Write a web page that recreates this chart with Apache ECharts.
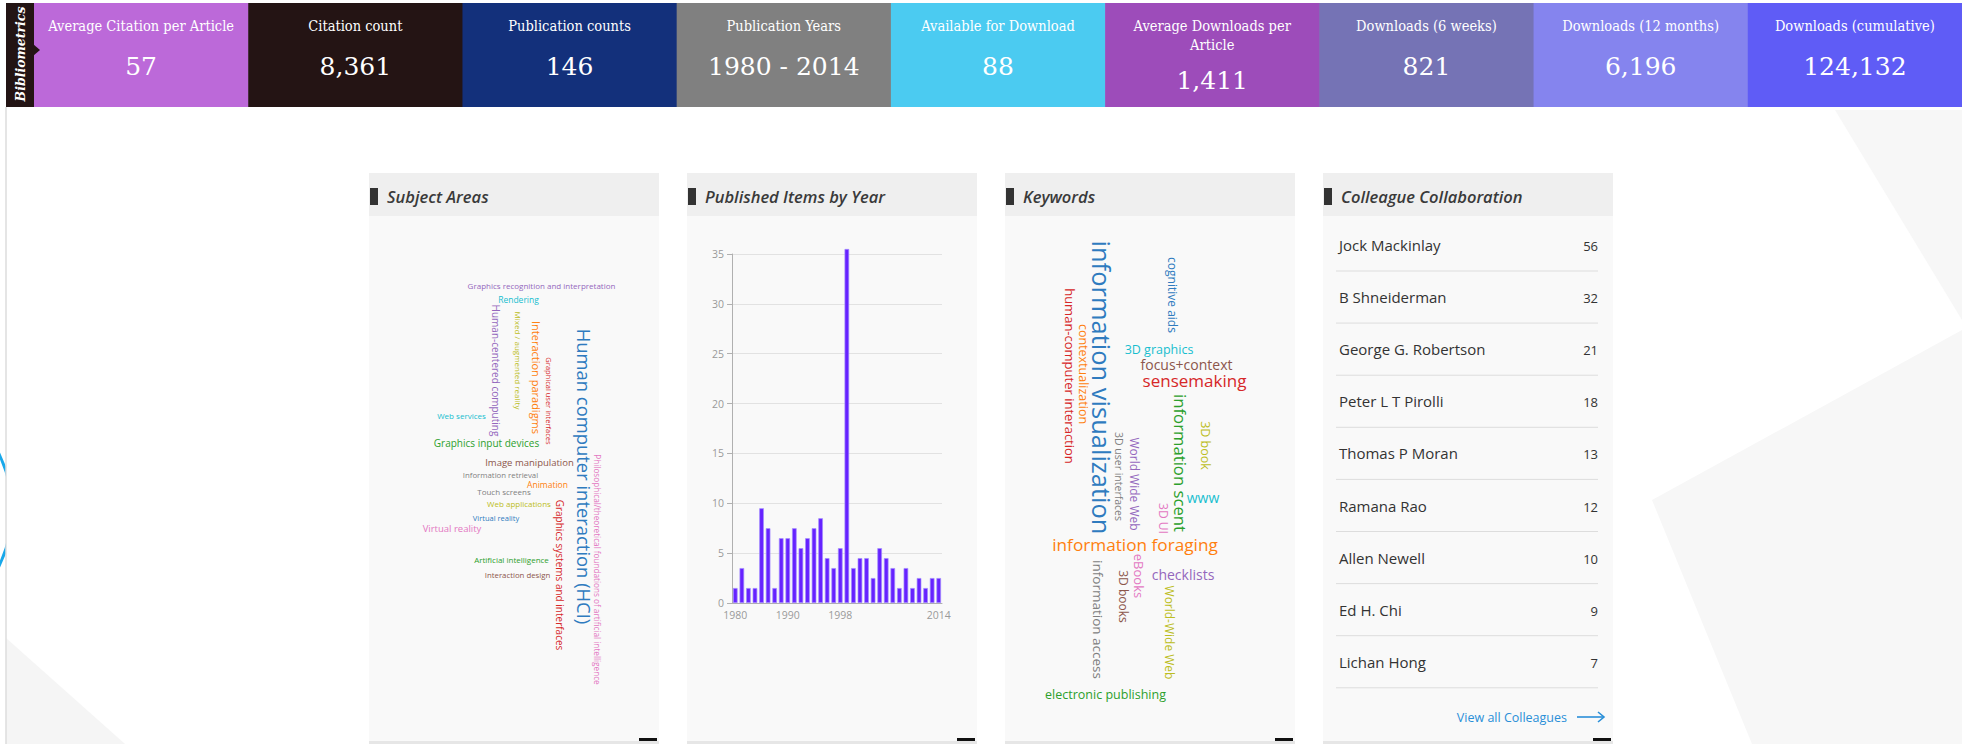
<!DOCTYPE html>
<html><head><meta charset="utf-8">
<script src="https://cdn.jsdelivr.net/npm/echarts@6/dist/echarts.min.js"></script>
<style>html,body{margin:0;padding:0;background:#fff;overflow:hidden}#c{width:1962px;height:744px}</style>
</head><body><div id="c"></div><script>
// ---------------- DATA ----------------
const metricLabels = ['Average Citation per Article','Citation count','Publication counts','Publication Years','Available for Download','Average Downloads per\nArticle','Downloads (6 weeks)','Downloads (12 months)','Downloads (cumulative)'];
const metricValues = ['57','8,361','146','1980 - 2014','88','1,411','821','6,196','124,132'];
const panelTitles = ['Subject Areas','Published Items by Year','Keywords','Colleague Collaboration'];

const years = ['1980','1981','1982','1983','1985','1986','1987','1989','1990','1991','1992','1993','1994','1995','1996','1997','1998','1999','2000','2001','2002','2003','2004','2005','2006','2007','2008','2010','2011','2012','2013','2014'];
const itemsPerYear = [1.5,3.5,1.5,1.5,9.5,7.5,1.5,6.5,6.5,7.5,5.5,6.5,7.5,8.5,4.5,3.5,5.5,35.5,3.5,4.5,4.5,2.5,5.5,4.5,3.5,1.5,3.5,1.5,2.5,1.5,2.5,2.5];
const xTickLabels = ['1980','1990','1998','2014'];

const subjectWords = ['Graphics recognition and interpretation','Rendering','Human-centered computing','Mixed / augmented reality','Interaction paradigms','Graphical user interfaces','Human computer interaction (HCI)','Web services','Graphics input devices','Philosophical/theoretical foundations of artificial intelligence','Image manipulation','Information retrieval','Animation','Touch screens','Web applications','Virtual reality','Virtual reality','Graphics systems and interfaces','Artificial intelligence','Interaction design'];
const subjectWeights = [8,8.5,10,8,11,7.5,18.4,8,10,8.2,9.5,7.8,8.5,8,8,7.5,9.5,10,8,7.8];

const keywordWords = ['information visualization','cognitive aids','human-computer interaction','contextualization','3D graphics','focus+context','sensemaking','information scent','3D book','3D user interfaces','World Wide Web','www','3D UI','information foraging','eBooks','checklists','3D books','information access','World-Wide Web','electronic publishing'];
const keywordWeights = [25.5,12,13,12.5,12.5,14,17,16.7,12.5,10.5,12,14,12,17.2,13,14,12,13.5,12,12.5];

const colleagueNames = ['Jock Mackinlay','B Shneiderman','George G. Robertson','Peter L T Pirolli','Thomas P Moran','Ramana Rao','Allen Newell','Ed H. Chi','Lichan Hong'];
const colleagueCounts = [56,32,21,18,13,12,10,9,7];

// ---------------- LAYOUT / STYLE ----------------
const metricColors = ['#BC69D9','#241414','#13307B','#808080','#4BCBF1','#9D4CBA','#7573B5','#8584EE','#5F5CF6'];
const palette = {blue:'#2f7bbf',orange:'#ff7f0e',green:'#2ca02c',red:'#d62728',purple:'#9467bd',brown:'#8c564b',pink:'#e377c2',gray:'#7f7f7f',olive:'#bcbd22',cyan:'#17becf'};
// [cx, cy, vertical, colorKey]
const subjectLayout = [
 [541.5,285,0,'purple'],[518.5,299,0,'cyan'],[496,370.5,1,'purple'],[518,360.5,1,'olive'],[536,377.5,1,'orange'],
 [549,401,1,'red'],[584,476.5,1,'blue'],[461.5,415,0,'cyan'],[486.5,443,0,'green'],[597,569.5,1,'pink'],
 [529.5,462,0,'brown'],[500.5,475,0,'gray'],[547.5,484,0,'orange'],[504,491,0,'gray'],[519,503,0,'olive'],
 [496,518,0,'blue'],[452,528,0,'pink'],[560,575,1,'red'],[511.5,559,0,'green'],[517.5,575,0,'brown']];
const keywordLayout = [
 [1102,387.5,1,'blue'],[1172,295,1,'blue'],[1070,376,1,'red'],[1083,374,1,'orange'],[1159,349,0,'cyan'],
 [1186.5,364,0,'brown'],[1194.5,380,0,'red'],[1180,463,1,'green'],[1205,445.5,1,'olive'],[1119,476.5,1,'gray'],
 [1134,484,1,'purple'],[1203,497,0,'cyan'],[1163,518.5,1,'pink'],[1135,544,0,'orange'],[1139,576,1,'pink'],
 [1183,574,0,'purple'],[1123,596.5,1,'brown'],[1098,619.5,1,'gray'],[1169,632.5,1,'olive'],[1105.5,694,0,'green']];

const panelX = [369,687,1005,1323], panelW = 290, panelTop = 173, panelHead = 43;
const serif = "'DejaVu Serif Condensed','Liberation Serif',serif";
const sans = "'Open Sans','Noto Sans',sans-serif";

const els = [];
function rect(x,y,w,h,fill,z){els.push({type:'rect',silent:true,z:z||0,shape:{x,y,width:w,height:h},style:{fill}});}
function txt(x,y,t,o){els.push({type:'text',silent:true,z:o.z||10,x,y,rotation:o.rot||0,style:{text:t,align:o.align||'center',verticalAlign:'middle',fill:o.fill||'#333',fontSize:o.size||12,fontFamily:o.family||sans,fontWeight:o.weight||'normal',fontStyle:o.style||'normal',lineHeight:o.lh}});}

// background decorations
els.push({type:'circle',silent:true,z:-20,shape:{cx:-116,cy:510,r:128},style:{fill:'none',stroke:'#18a8ea',lineWidth:3}});
rect(6,107,1956,637,'#ffffff',-15);
els.push({type:'polygon',silent:true,z:-14,shape:{points:[[6,638],[125,744],[6,744]]},style:{fill:'#f5f5f5'}});
els.push({type:'polygon',silent:true,z:-14,shape:{points:[[1652,500],[1962,330],[1962,744],[1752,744]]},style:{fill:'#f7f7f7'}});
els.push({type:'polygon',silent:true,z:-14,shape:{points:[[1835,110],[1962,110],[1962,320]]},style:{fill:'#f7f7f7'}});
els.push({type:'line',silent:true,z:-13,shape:{x1:6,y1:107,x2:6,y2:744},style:{stroke:'#dcdcdc',lineWidth:1.5}});

// header
const hx0 = 34, hw = (1962-34)/9;
metricLabels.forEach((lab,i)=>{
  const x = hx0 + i*hw;
  rect(x,3,hw+0.6,104,metricColors[i],1);
  const two = lab.indexOf('\n')>=0;
  txt(x+hw/2, two?35.5:26, lab, {fill:'#fff',size:14.5,family:serif,lh:19});
  txt(x+hw/2, two?80:66, metricValues[i], {fill:'#fff',size:25,family:"'DejaVu Serif','Liberation Serif',serif"});
});
rect(6,3,28,104,'#231414',2);
els.push({type:'polygon',silent:true,z:3,shape:{points:[[33,44],[40,50],[33,56]]},style:{fill:'#231414'}});
txt(20,54,'Bibliometrics',{fill:'#fff',size:12.5,family:"'DejaVu Serif','Liberation Serif',serif",weight:'bold',style:'italic',rot:Math.PI/2});

// panels
panelX.forEach((px,i)=>{
  rect(px,panelTop,panelW,744-panelTop,'#f9f9f9',-5);
  rect(px,panelTop,panelW,panelHead,'#efefef',-4);
  rect(px+1,188,8,17,'#333',-3);
  txt(px+18,196,panelTitles[i],{align:'left',size:16.5,weight:'600',style:'italic',fill:'#3a3a3a'});
  rect(px,741,panelW,3,'#e6e6e6',-3);
  rect(px+270,738,18,3,'#111',-2);
});

// word clouds
function cloud(words,weights,layout){
  words.forEach((w,i)=>{
    const L = layout[i];
    txt(L[0],L[1],w,{size:weights[i],fill:palette[L[3]],rot:L[2]?-Math.PI/2:0});
  });
}
cloud(subjectWords,subjectWeights,subjectLayout);
cloud(keywordWords,keywordWeights,keywordLayout);

// colleagues
colleagueNames.forEach((n,i)=>{
  const y = 245 + 52.1*i;
  txt(1339,y,n,{align:'left',size:15,fill:'#333'});
  txt(1598,y+1,String(colleagueCounts[i]),{align:'right',size:13,fill:'#333'});
  els.push({type:'line',silent:true,z:1,shape:{x1:1336,y1:y+26,x2:1598,y2:y+26},style:{stroke:'#dddddd',lineWidth:1}});
});
txt(1567,717,'View all Colleagues',{align:'right',size:12.5,fill:'#2a8fd8'});
els.push({type:'line',silent:true,z:1,shape:{x1:1577,y1:717,x2:1604,y2:717},style:{stroke:'#2a8fd8',lineWidth:1.6}});
els.push({type:'polyline',silent:true,z:1,shape:{points:[[1598,712],[1604,717],[1598,722]]},style:{stroke:'#2a8fd8',lineWidth:1.6,fill:'none'}});

const chart = echarts.init(document.getElementById('c'), null, {renderer:'svg'});
chart.setOption({
  animation:false,
  backgroundColor:'#ffffff',
  graphic:{elements:els},
  grid:{left:732,top:254,width:210,height:349,containLabel:false},
  xAxis:{type:'category',data:years,
    axisLine:{lineStyle:{color:'#b0b0b0'}},axisTick:{show:false},
    axisLabel:{interval:(idx,val)=>xTickLabels.indexOf(val)>=0,color:'#9a9a9a',fontSize:10.5,margin:6,fontFamily:sans}},
  yAxis:{type:'value',min:0,max:35,interval:5,
    axisLine:{show:true,lineStyle:{color:'#b0b0b0'}},
    axisTick:{show:true,length:5,lineStyle:{color:'#b0b0b0'}},
    axisLabel:{color:'#9a9a9a',fontSize:10.5,margin:8,fontFamily:sans},
    splitLine:{lineStyle:{color:'#e2e2e2'}}},
  series:[{type:'bar',data:itemsPerYear,barWidth:4.6,clip:false,z:5,
    itemStyle:{color:'#6622ff',borderColor:'#a48dff',borderWidth:0.7}}]
});
</script></body></html>
